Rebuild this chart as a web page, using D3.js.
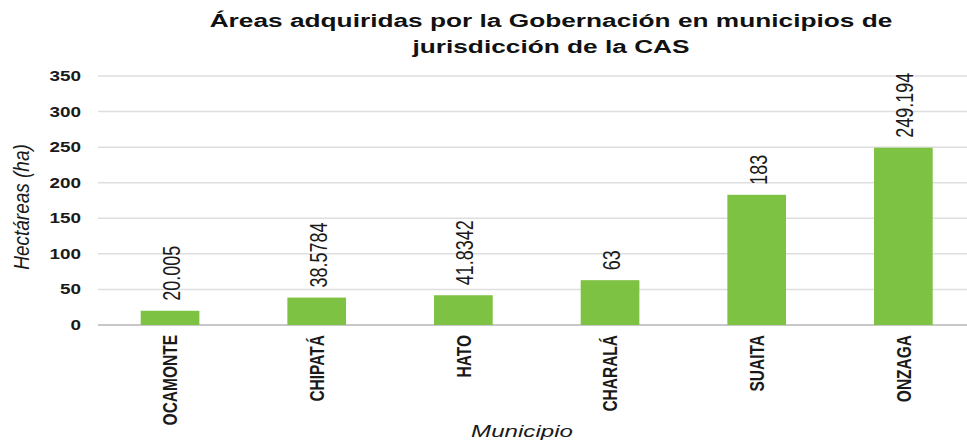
<!DOCTYPE html>
<html>
<head>
<meta charset="utf-8">
<script src="https://cdn.jsdelivr.net/npm/d3@7"></script>
<style>
html,body{margin:0;padding:0;background:#fff;}
svg{display:block;font-family:"Liberation Sans",Arial,sans-serif;}
</style>
</head>
<body>
<svg id="chart" width="967" height="444"></svg>
<script>
const categories = ["OCAMONTE","CHIPATÁ","HATO","CHARALÁ","SUAITA","ONZAGA"];
const values = [20.005, 38.5784, 41.8342, 63, 183, 249.194];
const valueLabels = ["20.005","38.5784","41.8342","63","183","249.194"];
const yTicks = [0,50,100,150,200,250,300,350];
const titleLines = ["Áreas adquiridas por la Gobernación en municipios de","jurisdicción de la CAS"];
const yTitle = "Hectáreas (ha)";
const xTitle = "Municipio";

const svg = d3.select("#chart");
const SX = 1.42;

const x = d3.scaleBand().domain(categories).range([96.7, 976.7]).paddingInner(0.6).paddingOuter(0.3);
const y = d3.scaleLinear().domain([0,350]).range([325, 76]);

// gridlines
svg.append("g").selectAll("line").data(yTicks).join("line")
  .attr("x1", 98).attr("x2", 967)
  .attr("y1", d => y(d)).attr("y2", d => y(d))
  .attr("stroke", d => d === 0 ? "#c8c8c8" : "#dedede")
  .attr("stroke-width", d => d === 0 ? 2 : 1.5);

// y tick labels
svg.append("g").selectAll("text").data(yTicks).join("text")
  .attr("transform", d => `translate(81,${y(d)}) scale(1.35,1)`)
  .attr("text-anchor","end").attr("dy","0.36em")
  .attr("font-size", 14).attr("font-weight","bold").attr("fill","#1a1a1a")
  .text(d => d);

// bars
svg.append("g").selectAll("rect").data(values).join("rect")
  .attr("x", (d,i) => x(categories[i]))
  .attr("width", x.bandwidth())
  .attr("y", d => y(d))
  .attr("height", d => y(0) - y(d))
  .attr("fill", "#7dc242");

// value labels
svg.append("g").selectAll("text").data(values).join("text")
  .attr("transform", (d,i) => `translate(${x(categories[i]) + x.bandwidth()/2 + 1},${y(d) - 10}) scale(1.36,1) rotate(-90)`)
  .attr("text-anchor","start").attr("dy","0.36em")
  .attr("font-size", 18).attr("fill","#1a1a1a")
  .text((d,i) => valueLabels[i]);

// category labels
svg.append("g").selectAll("text").data(categories).join("text")
  .attr("transform", d => `translate(${x(d) + x.bandwidth()/2},335) scale(1.3,1) rotate(-90)`)
  .attr("text-anchor","end").attr("dy","0.36em")
  .attr("font-size", 15.5).attr("font-weight","bold").attr("fill","#1a1a1a")
  .text(d => d);

// title
svg.append("g").selectAll("text").data(titleLines).join("text")
  .attr("transform", (d,i) => `translate(551,${i === 0 ? 27 : 53}) scale(${SX},1)`)
  .attr("text-anchor","middle")
  .attr("font-size", 18.5).attr("font-weight","bold").attr("fill","#111")
  .text(d => d);

// y axis title
svg.append("text")
  .attr("transform", `translate(21,207) scale(1.15,1) rotate(-90)`)
  .attr("text-anchor","middle").attr("dy","0.35em")
  .attr("font-size", 19).attr("font-style","italic").attr("fill","#1a1a1a")
  .text(yTitle);

// x axis title
svg.append("text")
  .attr("transform", `translate(522,437) scale(${SX},1)`)
  .attr("text-anchor","middle")
  .attr("font-size", 17).attr("font-style","italic").attr("fill","#1a1a1a")
  .text(xTitle);
</script>
</body>
</html>
